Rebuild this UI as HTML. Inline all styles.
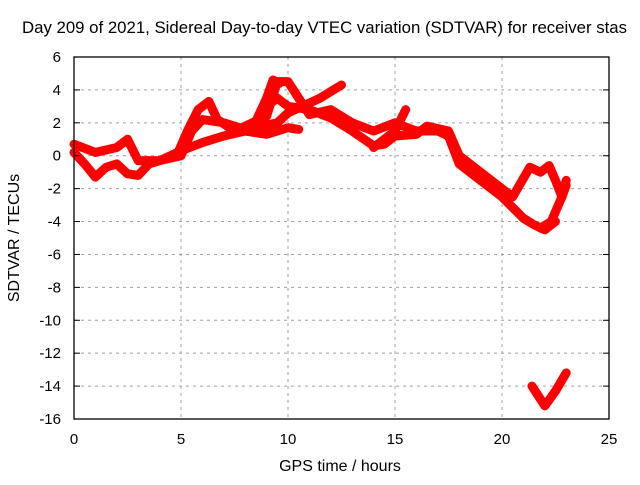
<!DOCTYPE html>
<html><head><meta charset="utf-8"><style>
body{margin:0;background:#fff;}
svg text{font-family:"Liberation Sans",sans-serif;font-size:15px;fill:#000;}
</style></head><body>
<svg id="chart" width="640" height="480" xmlns="http://www.w3.org/2000/svg">
<rect width="640" height="480" fill="#fff"/>
<text x="22" y="33" style="font-size:16.8px">Day 209 of 2021, Sidereal Day-to-day VTEC variation (SDTVAR) for receiver stas</text>
<g id="grid"></g>
<g id="series"></g>
<rect x="74" y="57" width="535" height="362" fill="none" stroke="#000" stroke-width="1.3"/>
<g id="axes"></g>
<text x="340" y="471" text-anchor="middle" style="font-size:16px">GPS time / hours</text>
<text transform="translate(19,238) rotate(-90)" text-anchor="middle" style="font-size:16px">SDTVAR / TECUs</text>
</svg>
<script>
const xTicks=[0,5,10,15,20,25];
const yTicks=[6,4,2,0,-2,-4,-6,-8,-10,-12,-14,-16];
const sAh=[0,1,2,2.5,3,4,5,5.5,6,7,8,9,9.5,10,10.5,11,12,13,14,15,16,17,17.5,18,19,20,21,21.5,22,22.5];
const sAv=[0.7,0.2,0.5,1,-0.3,-0.3,0,1.5,2.2,2.0,1.6,2.4,4.5,4.5,3.5,2.5,2.8,2.0,1.5,2.0,1.5,1.5,1.2,-0.5,-1.5,-2.5,-3.8,-4.2,-4.5,-4];
const sBh=[0,0.5,1,1.5,2,2.5,3,3.5,4,5,6,7,8,9,10,10.5];
const sBv=[0.2,-0.5,-1.3,-0.7,-0.5,-1.1,-1.2,-0.5,-0.3,0.3,0.8,1.2,1.5,1.3,1.7,1.6];
const sCh=[4.8,5.3,5.8,6.3,6.7,7.5,8.5,9,9.3,9.6];
const sCv=[0,1.5,2.8,3.3,2.2,1.5,2.1,3.5,4.6,4.4];
const sDh=[8.5,9.5,10,11,11.5,12.5];
const sDv=[1.7,2.0,2.6,3.2,3.5,4.3];
const sEh=[9,9.5,10,11,12,13,14,14.5,15,16,16.5,17.5,18,19,20,20.5,21.3,21.8,22.2,22.5,22.8,23];
const sEv=[3,3.5,3.0,2.8,2.3,1.5,0.6,0.7,1.2,1.3,1.8,1.5,0,-1.0,-2.0,-2.5,-0.7,-1.0,-0.6,-1.5,-2.5,-1.8];
const sFh=[14,15,15.5];
const sFv=[0.5,1.5,2.8];
const sGh=[21.8,22.3,22.8,23];
const sGv=[-4.4,-4.0,-2.5,-1.5];
const sHh=[21.4,22,22.5,23];
const sHv=[-14,-15.2,-14.3,-13.2];
const seriesList=[[sAh,sAv],[sBh,sBv],[sCh,sCv],[sDh,sDv],[sEh,sEv],[sFh,sFv],[sGh,sGv],[sHh,sHv]];
const X=h=>74+h*(535/25);
const Y=v=>57+(6-v)*(362/22);
const NS="http://www.w3.org/2000/svg";
const grid=document.getElementById('grid'),axes=document.getElementById('axes'),ser=document.getElementById('series');
function mk(t,a,p){const e=document.createElementNS(NS,t);for(const k in a)e.setAttribute(k,a[k]);p.appendChild(e);return e;}
xTicks.forEach(t=>{
 if(t>0&&t<25){const g=mk('line',{x1:X(t),x2:X(t),y1:57,y2:419,stroke:'#a0a0a0','stroke-dasharray':'3,4'},grid);
 
 }
 const l=mk('text',{x:X(t),y:444,'text-anchor':'middle'},axes);l.textContent=t;
 
 
});
yTicks.forEach(t=>{
 if(t<6&&t>-16){const g=mk('line',{x1:74,x2:609,y1:Y(t),y2:Y(t),stroke:'#a0a0a0','stroke-dasharray':'3,4'},grid);
 
 }
 mk('line',{x1:74,x2:80,y1:Y(t),y2:Y(t),stroke:'#000'},axes);
 mk('line',{x1:603,x2:609,y1:Y(t),y2:Y(t),stroke:'#000'},axes);
 const l=mk('text',{x:61,y:Y(t)+5,'text-anchor':'end'},axes);l.textContent=t;
 
 
});
seriesList.forEach(s=>{
 const pts=s[0].map((h,i)=>X(h)+','+Y(s[1][i])).join(' ');
 const p=mk('polyline',{points:pts,fill:'none',stroke:'#ff0000','stroke-width':9,'stroke-linejoin':'round','stroke-linecap':'round'},ser);
 
 
});
</script>
</body></html>
